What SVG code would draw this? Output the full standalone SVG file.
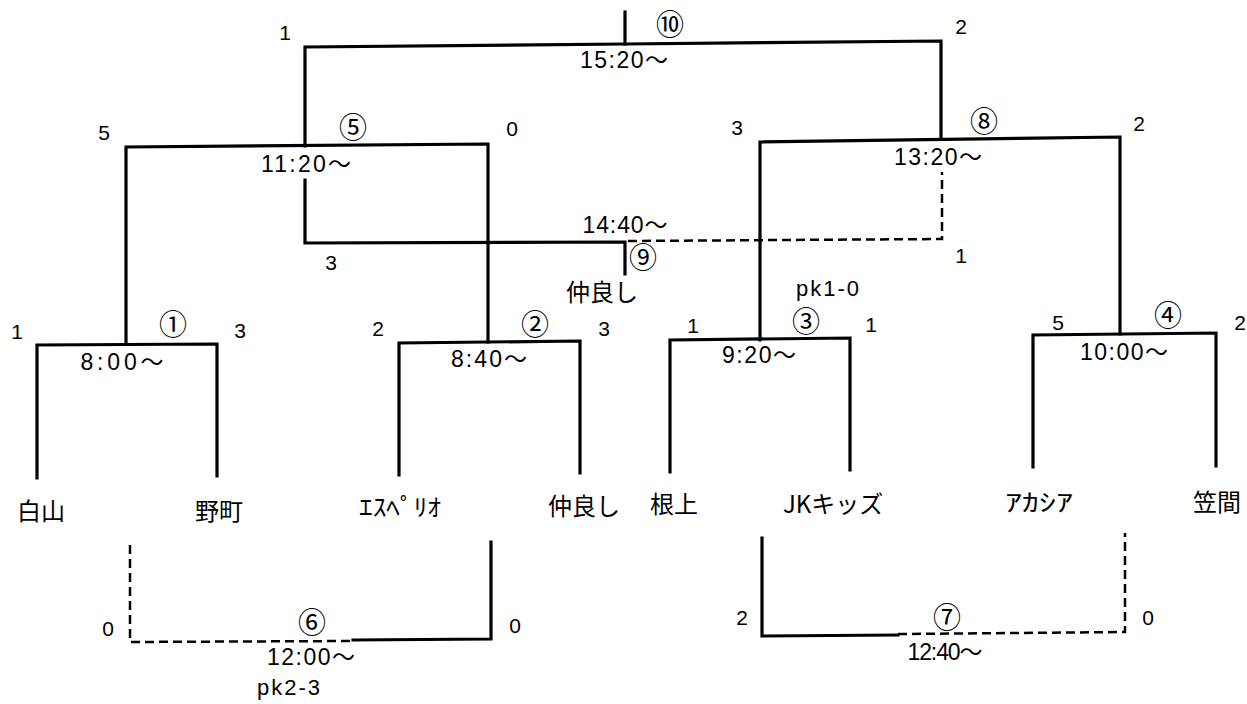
<svg xmlns="http://www.w3.org/2000/svg" width="1247" height="704" viewBox="0 0 1247 704">
<style>
.s{stroke:#000;stroke-width:3.2;fill:none;stroke-linecap:square;stroke-linejoin:miter}
.d{stroke:#000;stroke-width:2.5;fill:none;stroke-dasharray:9 5}
.sc{font-family:"Liberation Sans",sans-serif;font-size:21px;text-anchor:middle;fill:#000}
.tm{font-family:"Liberation Sans","Noto Sans CJK JP",sans-serif;font-size:23px;text-anchor:middle;fill:#000}
.cn{font-family:"Noto Sans CJK JP",sans-serif;font-size:28px;text-anchor:middle;fill:#000}
.nm{font-family:"Noto Sans CJK JP",sans-serif;font-size:24px;fill:#000}
.pk{font-family:"Liberation Sans",sans-serif;font-size:22px;fill:#000}
</style>
<rect width="1247" height="704" fill="#fff"/>
<g id="connectors">
  <line class="s" x1="625" y1="12" x2="625" y2="44"/>
  <polyline class="s" points="305,146 305,47 625,44 941,41 941,138"/>
  <polyline class="s" points="126,344 126,147 488,144 488,342"/>
  <polyline class="s" points="305,180 305,243 625,242 625,274"/>
  <polyline class="d" points="628,241 942,239 942,172"/>
  <polyline class="s" points="760,340 760,142 1120,137 1120,334"/>
  <polyline class="s" points="37,478 37,345 217,344 217,476"/>
  <polyline class="s" points="399,475 399,343 580,341 580,473"/>
  <polyline class="s" points="670,472 670,340 850,338 850,470"/>
  <polyline class="s" points="1033,467 1033,335 1216,333 1216,466"/>
  <polyline class="d" points="130,545 130,642 353,641"/>
  <polyline class="s" points="353,640 491,639 491,542"/>
  <polyline class="s" points="762,538 762,636 898,635"/>
  <polyline class="d" points="898,634 1125,632 1125,533"/>
</g>
<g id="teams">
  <g id="team-hakusan"><text class="nm" x="17" y="520">白山</text></g>
  <g id="team-nomachi"><text class="nm" x="195" y="520">野町</text></g>
  <g id="team-esperio"><text class="nm" x="359" y="516" textLength="82" lengthAdjust="spacingAndGlyphs">ｴｽﾍﾟﾘｵ</text></g>
  <g id="team-nakayoshi"><text class="nm" x="548" y="515">仲良し</text></g>
  <g id="team-neagari"><text class="nm" x="650" y="513">根上</text></g>
  <g id="team-jk"><text class="nm" x="783" y="513">JKキッズ</text></g>
  <g id="team-acacia"><text class="nm" x="1005" y="511" textLength="68" lengthAdjust="spacingAndGlyphs">ｱｶｼｱ</text></g>
  <g id="team-kasama"><text class="nm" x="1193" y="511">笠間</text></g>
</g>
<g id="match-10">
  <text class="cn" x="670" y="35">⑩</text>
  <text class="sc" x="285" y="40">1</text>
  <text class="sc" x="961" y="34">2</text>
  <text class="tm" x="624" y="68" textLength="88">15:20～</text>
</g>
<g id="match-5">
  <text class="cn" x="353" y="138">⑤</text>
  <text class="sc" x="104" y="140">5</text>
  <text class="sc" x="512" y="136">0</text>
  <text class="tm" x="306" y="172" textLength="90">11:20～</text>
</g>
<g id="match-9">
  <text class="cn" x="643" y="268">⑨</text>
  <text class="sc" x="331" y="270">3</text>
  <text class="sc" x="961" y="263">1</text>
  <text class="tm" x="625" y="233" textLength="85">14:40～</text>
  <text class="nm" x="566" y="301">仲良し</text>
  <text class="pk" x="796" y="296" textLength="63">pk1-0</text>
</g>
<g id="match-8">
  <text class="cn" x="984" y="132">⑧</text>
  <text class="sc" x="737" y="135">3</text>
  <text class="sc" x="1139" y="131">2</text>
  <text class="tm" x="938" y="165" textLength="88">13:20～</text>
</g>
<g id="match-1">
  <text class="cn" x="173" y="335">①</text>
  <text class="sc" x="17" y="339">1</text>
  <text class="sc" x="240" y="338">3</text>
  <text class="tm" x="122" y="370" textLength="83">8:00～</text>
</g>
<g id="match-2">
  <text class="cn" x="535" y="335">②</text>
  <text class="sc" x="378" y="336">2</text>
  <text class="sc" x="604" y="336">3</text>
  <text class="tm" x="489" y="367" textLength="76">8:40～</text>
</g>
<g id="match-3">
  <text class="cn" x="806" y="332">③</text>
  <text class="sc" x="693" y="333">1</text>
  <text class="sc" x="871" y="332">1</text>
  <text class="tm" x="759" y="363" textLength="74">9:20～</text>
</g>
<g id="match-4">
  <text class="cn" x="1168" y="326">④</text>
  <text class="sc" x="1058" y="330">5</text>
  <text class="sc" x="1240" y="330">2</text>
  <text class="tm" x="1124" y="360" textLength="88">10:00～</text>
</g>
<g id="match-6">
  <text class="cn" x="312" y="633">⑥</text>
  <text class="sc" x="108" y="636">0</text>
  <text class="sc" x="515" y="633">0</text>
  <text class="tm" x="311" y="665" textLength="88">12:00～</text>
  <text class="pk" x="257" y="695" textLength="63">pk2-3</text>
</g>
<g id="match-7">
  <text class="cn" x="947" y="628">⑦</text>
  <text class="sc" x="742" y="625">2</text>
  <text class="sc" x="1148" y="625">0</text>
  <text class="tm" x="945" y="660" font-size="20" textLength="75">12:40～</text>
</g>
</svg>
